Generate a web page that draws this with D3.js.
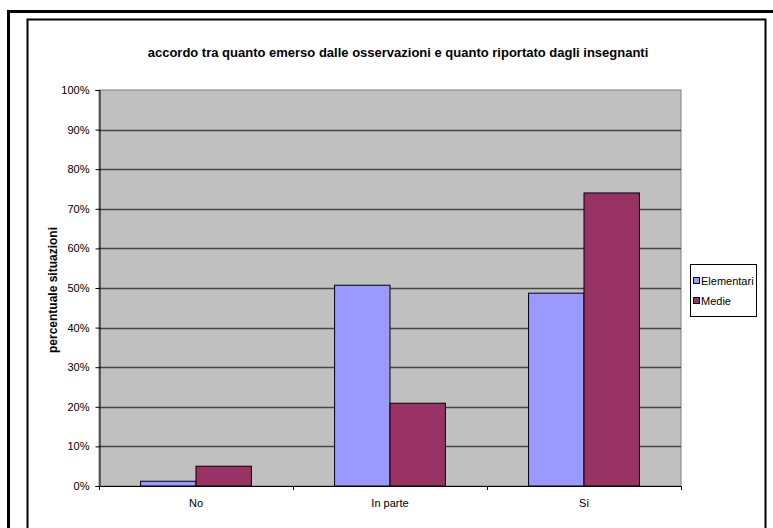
<!DOCTYPE html>
<html>
<head>
<meta charset="utf-8">
<script src="https://cdn.jsdelivr.net/npm/d3@7"></script>
<style>
  html, body { margin: 0; padding: 0; background: #fff; }
  svg { display: block; font-family: Arial, "Liberation Sans", sans-serif; }
</style>
</head>
<body>
<svg id="chart" width="773" height="528"></svg>
<script>
// Chart data
const categories = ["No", "In parte", "Si"];
const seriesNames = ["Elementari", "Medie"];
const elementari = [1.2, 50.7, 48.7];
const medie = [5.0, 20.9, 74.0];
const yTicks = [0, 10, 20, 30, 40, 50, 60, 70, 80, 90, 100];
const seriesColors = ["#9999FF", "#993366"];
const titleText = "accordo tra quanto emerso dalle osservazioni e quanto riportato dagli insegnanti";
const yTitle = "percentuale situazioni";

const svg = d3.select("#chart");

// Frames
svg.append("rect").attr("x", 8.5).attr("y", 11.5).attr("width", 800).attr("height", 560)
  .attr("fill", "none").attr("stroke", "#000").attr("stroke-width", 3);
svg.append("rect").attr("x", 27.5).attr("y", 19.5).attr("width", 738).attr("height", 560)
  .attr("fill", "#fff").attr("stroke", "#000").attr("stroke-width", 2);

// Plot area
const plot = { left: 99, top: 90, right: 681, bottom: 486 };

const x = d3.scaleBand().domain(categories).range([plot.left, plot.right]).paddingInner(0).paddingOuter(0);
const y = d3.scaleLinear().domain([0, 100]).range([plot.bottom, plot.top]);

svg.append("rect")
  .attr("x", plot.left).attr("y", plot.top)
  .attr("width", plot.right - plot.left).attr("height", plot.bottom - plot.top)
  .attr("fill", "#C0C0C0").attr("stroke", "#808080").attr("stroke-width", 1);

// Gridlines
svg.append("g").selectAll("line").data(yTicks.filter(d => d > 0 && d < 100)).join("line")
  .attr("x1", plot.left).attr("x2", plot.right)
  .attr("y1", d => Math.round(y(d)) + 0.5).attr("y2", d => Math.round(y(d)) + 0.5)
  .attr("stroke", "#454545").attr("stroke-width", 1.3);

// Bars: gap width 150% of a bar
const barW = x.bandwidth() / 3.5;
const groupOffset = (x.bandwidth() - 2 * barW) / 2;
const seriesData = [elementari, medie];

seriesData.forEach((vals, s) => {
  svg.append("g").selectAll("rect").data(vals).join("rect")
    .attr("x", (d, i) => x(categories[i]) + groupOffset + s * barW)
    .attr("y", d => y(d))
    .attr("width", barW)
    .attr("height", d => plot.bottom - y(d))
    .attr("fill", seriesColors[s])
    .attr("stroke", "#000").attr("stroke-width", 1);
});

// Y axis
const yAxis = d3.axisLeft(y).tickValues(yTicks).tickFormat(d => d + "%").tickSize(4).tickPadding(6);
const yg = svg.append("g").attr("transform", `translate(${plot.left + 0.5},0)`).call(yAxis);
yg.select(".domain").attr("stroke", "#000");
yg.selectAll(".tick line").attr("stroke", "#000");
yg.selectAll("text").attr("font-size", 11).attr("fill", "#000")
  .attr("font-family", "Arial, 'Liberation Sans', sans-serif");

// X axis: ticks between categories
svg.append("line").attr("x1", plot.left).attr("x2", plot.right + 1)
  .attr("y1", plot.bottom + 0.5).attr("y2", plot.bottom + 0.5).attr("stroke", "#000");
const boundaries = categories.map(c => x(c)).concat([plot.right]);
svg.append("g").selectAll("line").data(boundaries).join("line")
  .attr("x1", d => Math.round(d) + 0.5).attr("x2", d => Math.round(d) + 0.5)
  .attr("y1", plot.bottom).attr("y2", plot.bottom + 4).attr("stroke", "#000");
svg.append("g").selectAll("text").data(categories).join("text")
  .attr("x", d => x(d) + x.bandwidth() / 2)
  .attr("y", plot.bottom + 21)
  .attr("text-anchor", "middle").attr("font-size", 11).attr("fill", "#000")
  .text(d => d);

// Title
svg.append("text").attr("x", 398).attr("y", 57).attr("text-anchor", "middle")
  .attr("font-size", 13).attr("font-weight", "bold").text(titleText);

// Y axis title
svg.append("text")
  .attr("transform", `translate(57,${(plot.top + plot.bottom) / 2 + 2}) rotate(-90)`)
  .attr("text-anchor", "middle").attr("font-size", 12).attr("font-weight", "bold")
  .text(yTitle);

// Legend
const lg = svg.append("g").attr("transform", "translate(690,264)");
lg.append("rect").attr("x", 0.5).attr("y", 0.5).attr("width", 66).attr("height", 52)
  .attr("fill", "#fff").attr("stroke", "#000");
seriesNames.forEach((name, i) => {
  const row = lg.append("g").attr("transform", `translate(3,${17 + i * 20})`);
  row.append("rect").attr("x", 0.5).attr("y", -3.5).attr("width", 6).attr("height", 6)
    .attr("fill", seriesColors[i]).attr("stroke", "#000");
  row.append("text").attr("x", 8).attr("y", 4).attr("font-size", 11).text(name);
});
</script>
</body>
</html>
